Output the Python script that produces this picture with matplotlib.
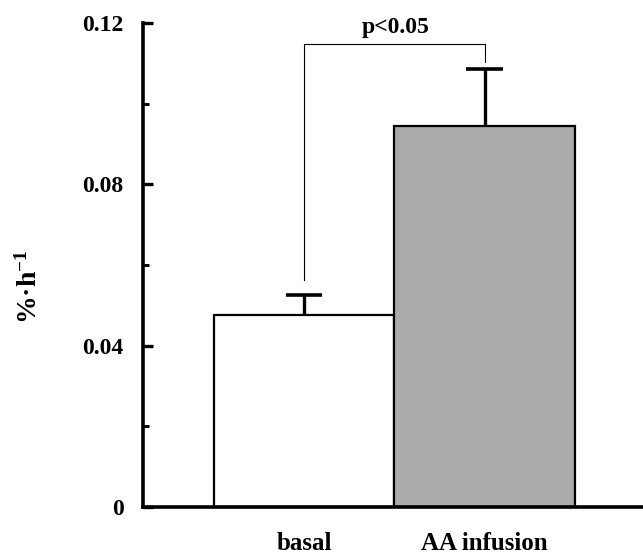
import matplotlib.pyplot as plt
from matplotlib.ticker import MultipleLocator

# data
groups = ['basal', 'AA infusion']
means = [0.0476, 0.0945]
sems = [0.0050, 0.0140]
bar_colors = ['white', '#aaaaaa']
p_text = 'p<0.05'

plt.rcParams['font.family'] = ['Liberation Serif', 'DejaVu Serif']
plt.rcParams['font.weight'] = 'bold'
plt.rcParams['mathtext.default'] = 'regular'

fig = plt.figure(figsize=(6.43, 5.54), dpi=100)
ax = fig.add_axes([0.2224, 0.0848, 0.7776, 0.8737])

x = list(range(len(groups)))
ax.bar(x, means, width=1.0, color=bar_colors, edgecolor='black', linewidth=1.6, zorder=2)

# upper error bars only
tops = [m + s for m, s in zip(means, sems)]
cap = 0.1
ax.vlines(x, means, tops, color='black', linewidth=2.4, zorder=3)
ax.hlines(tops, [i - cap for i in x], [i + cap for i in x], color='black',
          linewidth=2.6, zorder=3)

# significance bracket
y_br = 0.1148
ax.plot([x[0], x[0], x[1], x[1]], [tops[0] + 0.0037, y_br, y_br, tops[1] + 0.0018],
        color='black', linewidth=0.8, zorder=3)
ax.text((x[0] + x[1]) / 2 + 0.01, y_br + 0.0015, p_text, ha='center', va='bottom',
        fontsize=17, fontweight='bold')

ax.set_xlim(-0.892, 1.878)
ax.set_ylim(0, 0.12)
ax.yaxis.set_minor_locator(MultipleLocator(0.02))
ax.set_yticks([0, 0.04, 0.08, 0.12])
ax.set_yticklabels(['0', '0.04', '0.08', '0.12'])
ax.tick_params(axis='y', which='major', direction='in', length=7, width=2.4,
               labelsize=17, pad=14)
ax.tick_params(axis='y', which='minor', direction='in', length=4, width=2.2)

ax.set_xticks(x)
ax.set_xticklabels(groups, fontsize=18, fontweight='bold')
ax.tick_params(axis='x', length=0, pad=18)

ax.set_ylabel('%·h$^{-1}$', fontsize=20, fontweight='bold')
ax.yaxis.set_label_coords(-0.2, 0.455)

for side in ['top', 'right']:
    ax.spines[side].set_visible(False)
ax.spines['left'].set_linewidth(2.6)
ax.spines['bottom'].set_linewidth(2.6)
ax.spines['left'].set_zorder(4)

plt.savefig('out.png', dpi=100)
